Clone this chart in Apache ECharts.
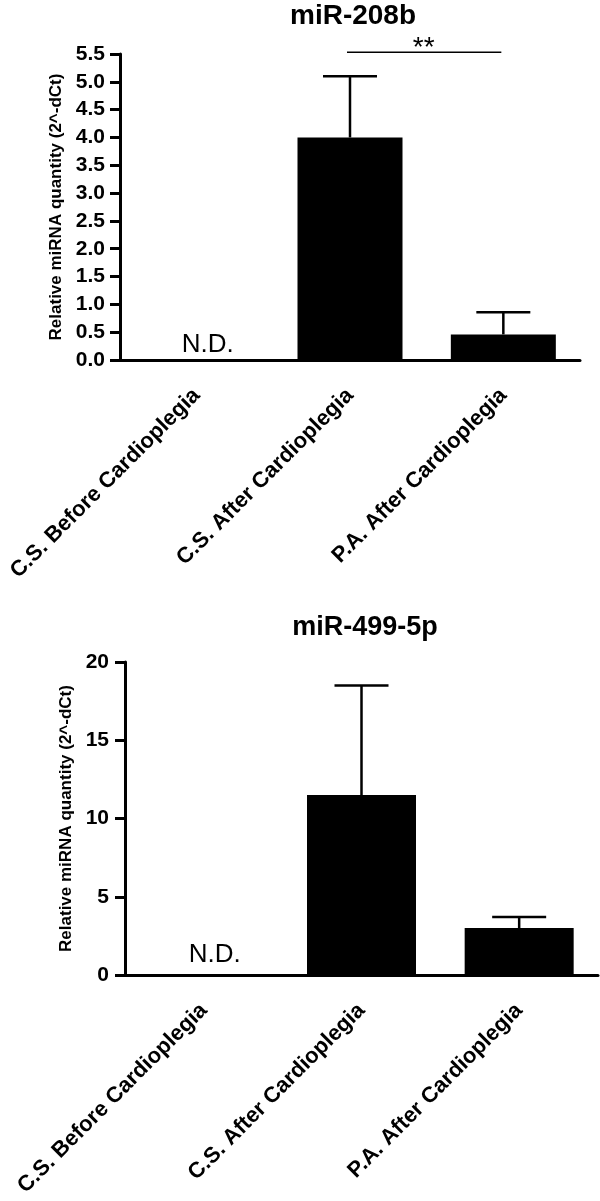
<!DOCTYPE html>
<html>
<head>
<meta charset="utf-8">
<script src="https://cdn.jsdelivr.net/npm/echarts@6/dist/echarts.min.js"></script>
<style>
  html, body { margin: 0; padding: 0; background: #fff; }
  #chart { width: 600px; height: 1201px; }
</style>
</head>
<body>
<div id="chart"></div>
<script>
// groups on the x axis
const categories = ['C.S. Before Cardioplegia', 'C.S. After Cardioplegia', 'P.A. After Cardioplegia'];

// miR-208b (first group not detected)
const mir208bMean = [0, 4.0, 0.46];
const mir208bErr = [null, 1.1, 0.4];

// miR-499-5p
const mir499Mean = [0, 11.5, 3.0];
const mir499Err = [null, 7.0, 0.7];

// significance bracket over miR-208b: [from, to, height, text]
const sig208b = [[1, 2, 5.53, '**']];

const FONT = 'Liberation Sans, Arial, sans-serif';

function barData(means, dy) {
  return means.map(function (v, i) {
    if (i === 0) {
      // not detected -> N.D. text instead of a bar
      return {
        value: v,
        label: {
          show: true, formatter: 'N.D.', position: 'top', distance: 2,
          offset: [11, dy], color: '#000', fontSize: 26, fontFamily: FONT
        }
      };
    }
    return v;
  });
}

function errData(means, errs) {
  const out = [];
  for (let i = 0; i < means.length; i++) {
    if (errs[i] != null) out.push([i, means[i], means[i] + errs[i]]);
  }
  return out;
}

function renderErr(params, api) {
  const base = api.coord([api.value(0), api.value(1)]);
  const top = api.coord([api.value(0), api.value(2)]);
  const cap = 27;
  const style = { stroke: '#000', lineWidth: 2.5 };
  return {
    type: 'group',
    children: [
      { type: 'line', shape: { x1: base[0], y1: base[1], x2: top[0], y2: top[1] }, style: style },
      { type: 'line', shape: { x1: top[0] - cap, y1: top[1], x2: top[0] + cap, y2: top[1] }, style: style }
    ]
  };
}

function renderSig(params, api) {
  const a = api.coord([api.value(0), api.value(2)]);
  const b = api.coord([api.value(1), api.value(2)]);
  const txt = sig208b[params.dataIndex][3];
  return {
    type: 'group',
    children: [
      { type: 'line', shape: { x1: a[0] - 3, y1: a[1], x2: b[0] - 2, y2: b[1] }, style: { stroke: '#000', lineWidth: 1.5 } },
      { type: 'text', x: (a[0] + b[0]) / 2 - 3, y: a[1] - 4,
        style: { text: txt, fill: '#000', font: '28px ' + FONT, textAlign: 'center', textVerticalAlign: 'middle' } }
    ]
  };
}

function xAxisCfg(gridIndex) {
  return {
    type: 'category', gridIndex: gridIndex, data: categories,
    axisLine: { lineStyle: { color: '#000', width: 3 } },
    axisTick: { alignWithLabel: true, length: 10, lineStyle: { color: '#000', width: 3 } },
    axisLabel: { rotate: 45, margin: 32, color: '#000', fontSize: 22, fontWeight: 'bold', fontFamily: FONT, interval: 0 },
    splitLine: { show: false }
  };
}

function yAxisCfg(gridIndex, max, interval, digits, name, margin, gap) {
  return {
    type: 'value', gridIndex: gridIndex, min: 0, max: max, interval: interval,
    name: name, nameLocation: 'middle', nameGap: gap,
    nameTextStyle: { color: '#000', fontSize: 17, fontWeight: 'bold', fontFamily: FONT },
    axisLine: { show: true, lineStyle: { color: '#000', width: 3 } },
    axisTick: { show: true, length: 10, lineStyle: { color: '#000', width: 3 } },
    axisLabel: {
      margin: margin, color: '#000', fontSize: 21, fontWeight: 'bold', fontFamily: FONT,
      formatter: function (v) { return v.toFixed(digits); }
    },
    splitLine: { show: false }
  };
}

const chart = echarts.init(document.getElementById('chart'));
chart.setOption({
  backgroundColor: '#fff',
  animation: false,
  title: [
    { text: 'miR-208b', left: 348, top: -3, textAlign: 'center',
      textStyle: { color: '#000', fontSize: 28, fontWeight: 'bold', fontFamily: FONT } },
    { text: 'miR-499-5p', left: 360, top: 609, textAlign: 'center',
      textStyle: { color: '#000', fontSize: 27, fontWeight: 'bold', fontFamily: FONT } }
  ],
  grid: [
    { left: 120, top: 54, width: 460, height: 306 },
    { left: 125, top: 662, width: 473, height: 313 }
  ],
  xAxis: [xAxisCfg(0), xAxisCfg(1)],
  yAxis: [
    yAxisCfg(0, 5.5, 0.5, 1, 'Relative miRNA quantity (2^-dCt)', 15, 54),
    yAxisCfg(1, 20, 5, 0, 'Relative miRNA quantity (2^-dCt)', 16, 48)
  ],
  series: [
    { type: 'bar', xAxisIndex: 0, yAxisIndex: 0, barWidth: 105, itemStyle: { color: '#000' }, data: barData(mir208bMean, 0), z: 2 },
    { type: 'custom', xAxisIndex: 0, yAxisIndex: 0, renderItem: renderErr, data: errData(mir208bMean, mir208bErr), z: 1 },
    { type: 'custom', xAxisIndex: 0, yAxisIndex: 0, renderItem: renderSig, data: sig208b.map(function (s) { return s.slice(0, 3); }), clip: false, z: 3 },
    { type: 'bar', xAxisIndex: 1, yAxisIndex: 1, barWidth: 109, itemStyle: { color: '#000' }, data: barData(mir499Mean, -5), z: 2 },
    { type: 'custom', xAxisIndex: 1, yAxisIndex: 1, renderItem: renderErr, data: errData(mir499Mean, mir499Err), z: 1 }
  ]
});
</script>
</body>
</html>
